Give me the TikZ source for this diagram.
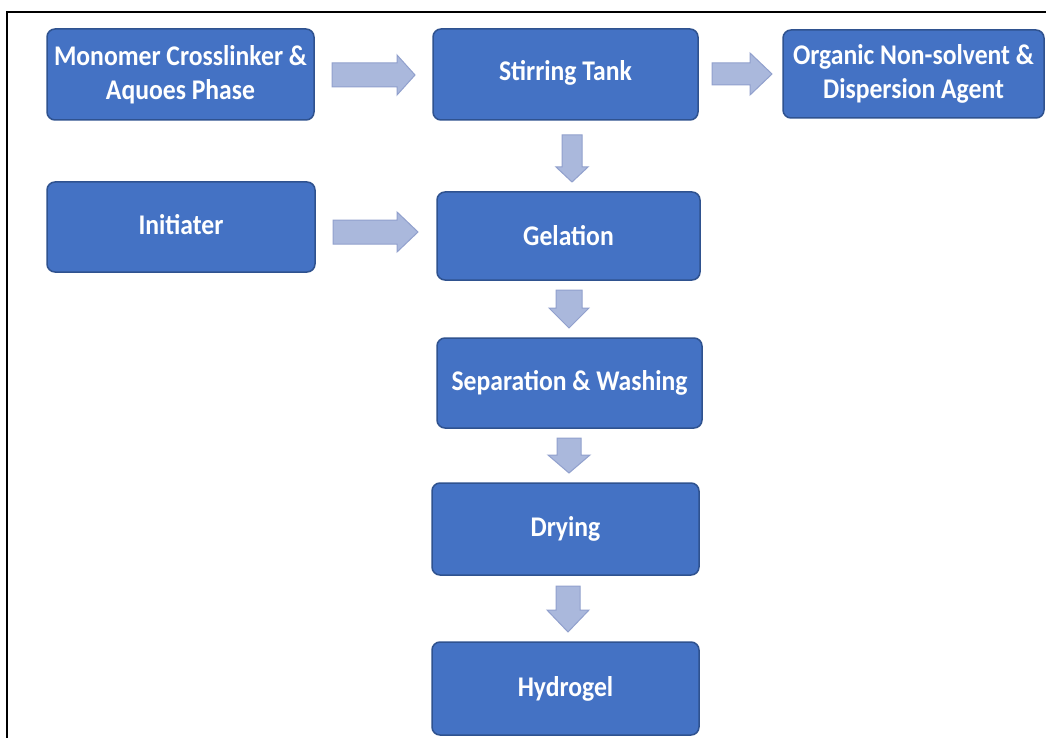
\documentclass[tikz,border=0pt]{standalone}
\usepackage{fontspec}
\setmainfont{Carlito}
\newfontfamily\boxfont[FakeStretch=0.9]{Carlito}
\definecolor{boxfill}{HTML}{4472C4}
\definecolor{boxline}{HTML}{2F528F}
\definecolor{arrfill}{RGB}{170,184,220}
\definecolor{arrline}{RGB}{145,160,205}
\newcommand\harr[6]{% x0 xh x1 yc s h
  \draw[arrowshape] (#1,#4-#5) -- (#2,#4-#5) -- (#2,#4-#6) -- (#3,#4) -- (#2,#4+#6) -- (#2,#4+#5) -- (#1,#4+#5) -- cycle;}
\newcommand\varr[6]{% y0 yh y1 xc s h
  \draw[arrowshape] (#4-#5,#1) -- (#4-#5,#2) -- (#4-#6,#2) -- (#4,#3) -- (#4+#6,#2) -- (#4+#5,#2) -- (#4+#5,#1) -- cycle;}
\newcommand\up[2]{\raisebox{#1pt}{#2}}
\begin{document}
\begin{tikzpicture}[x=1pt,y=-1pt,
  stepbox/.style={draw=boxline, line width=1.5pt, fill=boxfill, rounded corners=8pt,
    text=white, font=\boxfont\fontsize{28.5}{34}\selectfont\bfseries, align=center, inner sep=0pt},
  arrowshape/.style={draw=arrline, line width=1pt, fill=arrfill, line join=miter}]
\useasboundingbox (0,0) rectangle (1046,738);
\fill[white] (0,0) rectangle (1046,738);
\draw[line width=2pt, line cap=rect] (1050,12) -- (7,12) -- (7,742);

\node[stepbox, minimum width=267pt, minimum height=91pt] (mono) at (180.5,74.5) {Monomer Crosslinker \&\\Aquoes Phase};
\node[stepbox, minimum width=265pt, minimum height=91pt] (stir) at (565.5,74.5) {\up{8}{Stirring Tank}};
\node[stepbox, minimum width=261pt, minimum height=88pt] (org) at (913.5,74) {Organic Non-solvent \&\\Dispersion Agent};
\node[stepbox, minimum width=268pt, minimum height=90pt] (init) at (181,227) {\up{5}{Initiater}};
\node[stepbox, minimum width=263pt, minimum height=88pt] (gel) at (568.5,236) {\up{-4}{Gelation}};
\node[stepbox, minimum width=265pt, minimum height=90pt] (sep) at (569.5,383) {Separation \& Washing};
\node[stepbox, minimum width=267pt, minimum height=92pt] (dry) at (565.5,529) {Drying};
\node[stepbox, minimum width=267pt, minimum height=93pt] (hyd) at (565.5,688.5) {Hydrogel};

\harr{332}{397}{415}{75}{12}{20}
\harr{712}{750}{772}{74}{11}{21}
\harr{333}{397}{418}{232}{12}{20}
\varr{135}{167}{182}{572}{10}{16}
\varr{290}{308}{328}{569}{13}{20}
\varr{438}{455}{473}{569}{12}{21}
\varr{586}{610}{632}{568}{12}{21}
\end{tikzpicture}
\end{document}
